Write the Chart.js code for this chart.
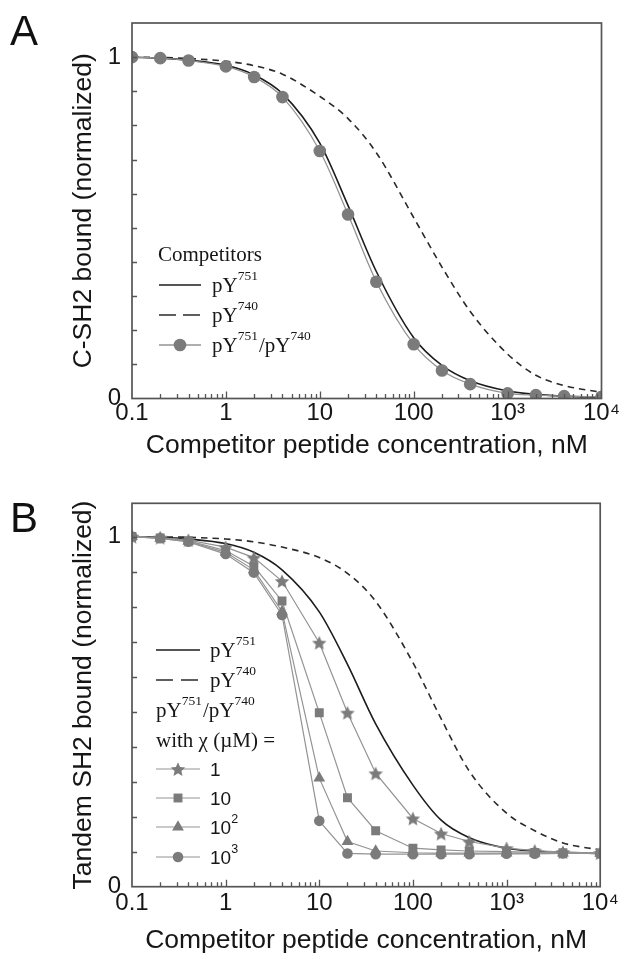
<!DOCTYPE html>
<html><head><meta charset="utf-8">
<script src="https://cdn.jsdelivr.net/npm/chart.js@4"></script>
<style>
html,body{margin:0;padding:0;background:#fff;}
#wrap{position:relative;width:623px;height:955px;overflow:hidden;}
.panel{position:absolute;left:0;width:623px;}
#pa{top:0;height:470px;}
#pb{top:470px;height:485px;}
.letter{position:absolute;left:10px;font-family:"Liberation Sans",Arial,sans-serif;font-size:42px;color:#111;line-height:1;}
</style></head>
<body>
<div id="wrap">
<div class="panel" id="pa"><canvas id="ca" width="623" height="470"></canvas></div>
<div class="panel" id="pb"><canvas id="cb" width="623" height="485"></canvas></div>
<div class="letter" style="top:9.5px">A</div>
<div class="letter" style="top:496.5px">B</div>
</div>
<script>
// ---------- data ----------
const conc = [0.1,0.2,0.4,1,2,4,10,20,40,100,200,400,1000,2000,4000,10000];

// Panel A
const aBoth  = [1.000,0.997,0.990,0.973,0.942,0.883,0.725,0.539,0.342,0.159,0.082,0.042,0.015,0.010,0.007,0.005];
const aPY751 = [1.000,0.997,0.991,0.976,0.948,0.893,0.748,0.565,0.372,0.178,0.097,0.052,0.022,0.012,0.007,0.003];
const aPY740 = [1.000,0.999,0.996,0.988,0.975,0.950,0.885,0.820,0.720,0.530,0.385,0.255,0.130,0.068,0.038,0.018];

// Panel B
const bPY751   = [1.000,0.998,0.993,0.980,0.955,0.905,0.785,0.635,0.465,0.290,0.190,0.140,0.110,0.102,0.098,0.095];
const bPY740   = [1.000,0.999,0.998,0.993,0.985,0.970,0.940,0.895,0.815,0.640,0.480,0.330,0.210,0.160,0.125,0.105];
const bChi1    = [1.000,0.997,0.990,0.970,0.940,0.873,0.697,0.497,0.324,0.195,0.152,0.129,0.110,0.103,0.099,0.096];
const bChi10   = [1.000,0.996,0.988,0.960,0.915,0.816,0.497,0.254,0.160,0.110,0.105,0.102,0.100,0.098,0.097,0.096];
const bChi100  = [1.000,0.995,0.986,0.955,0.905,0.786,0.310,0.129,0.102,0.097,0.096,0.096,0.096,0.096,0.096,0.095];
const bChi1000 = [1.000,0.995,0.985,0.950,0.897,0.776,0.188,0.095,0.093,0.093,0.093,0.093,0.094,0.094,0.095,0.095];

// ticks / labels
const xTickValues = [0.1,1,10,100,1000,10000];
const xTickText   = ['0.1','1','10','100','10\u00B3','10\u2074'];
const yTickValues = [0,1];
const yTickText   = ['0','1'];
const xTitle  = 'Competitor peptide concentration, nM';
const yTitleA = 'C-SH2 bound (normalized)';
const yTitleB = 'Tandem SH2 bound (normalized)';

// ---------- helpers ----------
const SANS = '"Liberation Sans", Arial, sans-serif';
const SERIF = '"Liberation Serif", "Times New Roman", serif';
const GRAY = '#7b7b7b';
const GRAYLINE = '#939393';
function pts(ys){ return conc.map((x,i)=>({x:x, y:ys[i]})); }

function makeStar(R, color){
  const s = Math.ceil(R*2+2);
  const c = document.createElement('canvas'); c.width = s; c.height = s;
  const g = c.getContext('2d');
  g.fillStyle = color; g.beginPath();
  for (let k=0;k<10;k++){
    const r = (k%2) ? R*0.47 : R;
    const a = -Math.PI/2 + k*Math.PI/5;
    g.lineTo(s/2 + r*Math.cos(a), s/2 + 0.8 + r*Math.sin(a));
  }
  g.closePath(); g.fill();
  return c;
}
const starImg = makeStar(7.6, GRAY);

function drawRich(ctx, parts, x, y, base, sup, family, color){
  let cx = x;
  ctx.fillStyle = color || '#161616';
  ctx.textBaseline = 'alphabetic';
  ctx.textAlign = 'left';
  for (const p of parts){
    ctx.font = (p.sup ? sup : base) + 'px ' + family;
    ctx.fillText(p.t, cx, p.sup ? y - base*0.58 : y);
    cx += ctx.measureText(p.t).width + (p.sup ? 1 : 0);
  }
}

const framePlugin = {
  id: 'frame',
  afterDatasetsDraw(chart){
    const {ctx, chartArea:a, scales:{x, y}} = chart;
    ctx.save();
    ctx.strokeStyle = '#555'; ctx.lineWidth = 1.3;
    ctx.beginPath();
    for (let e=-1; e<4; e++){
      for (let m=1; m<=9; m++){
        if (e===-1 && m===1) continue;
        const px = Math.round(x.getPixelForValue(m*Math.pow(10,e))) + 0.5;
        const len = (m===1) ? 7 : 4.5;
        ctx.moveTo(px, a.bottom); ctx.lineTo(px, a.bottom - len);
      }
    }
    for (let k=1;k<=10;k++){
      const py = Math.round(y.getPixelForValue(k/10)) + 0.5;
      ctx.moveTo(a.left, py); ctx.lineTo(a.left + 5, py);
    }
    ctx.stroke();
    ctx.lineWidth = 1.7; ctx.strokeStyle = '#555';
    ctx.strokeRect(a.left, a.top, a.right - a.left, a.bottom - a.top);
    ctx.restore();
  }
};

const legendPlugin = {
  id: 'richLegend',
  afterDraw(chart, args, opts){
    const ctx = chart.ctx;
    ctx.save();
    for (const it of opts.items){
      const y = it.y;
      if (it.line){
        ctx.save();
        ctx.strokeStyle = it.line.color; ctx.lineWidth = it.line.width;
        ctx.setLineDash(it.line.dash || []);
        ctx.beginPath(); ctx.moveTo(opts.x0, y); ctx.lineTo(opts.x1, y); ctx.stroke();
        ctx.restore();
      }
      if (it.marker){
        ctx.save();
        ctx.fillStyle = GRAY; ctx.strokeStyle = GRAY;
        Chart.helpers.drawPoint(ctx, {pointStyle: it.marker.style, radius: it.marker.r, rotation: 0, borderWidth: 0}, (opts.x0+opts.x1)/2, y);
        ctx.restore();
      }
      const fam = it.sans ? SANS : SERIF;
      const base = it.sans ? 19 : 21;
      const sup = it.sans ? 12.5 : 13.5;
      const tx = (it.textX !== undefined) ? it.textX : opts.tx;
      drawRich(ctx, it.parts, tx, y + (it.sans ? 6.8 : 7), base, sup, fam, '#161616');
    }
    ctx.restore();
  }
};

function axes(opts){
  return {
    x: {
      type:'logarithmic', min:0.1, max:10000,
      grid:{display:false, drawTicks:false}, border:{display:false},
      afterBuildTicks: s => { s.ticks = xTickValues.map(v => ({value:v})); },
      afterFit: s => { s.height = opts.xh; },
      ticks:{autoSkip:false, maxRotation:0, minRotation:0, padding:opts.xpad, color:'#161616',
             font:{family:SANS, size:24, lineHeight:1},
             callback:(v,i) => xTickText[i]},
      title:{display:true, text:xTitle, color:'#161616',
             font:{family:SANS, size:26.5, lineHeight:1}, padding:{top:0, bottom:opts.xtpad}}
    },
    y: {
      type:'linear', min:0, max:opts.ymax,
      grid:{display:false, drawTicks:false}, border:{display:false},
      afterBuildTicks: s => { s.ticks = yTickValues.map(v => ({value:v})); },
      afterFit: s => { s.width = 132; },
      ticks:{padding:11, color:'#161616', font:{family:SANS, size:24, lineHeight:1},
             callback:(v,i) => yTickText[i]},
      title:{display:true, text:opts.ytitle, color:'#161616',
             font:{family:SANS, size:26.5, lineHeight:1}, padding:{top:70.75, bottom:0}}
    }
  };
}

Chart.defaults.font.family = SANS;

// ---------- Panel A ----------
new Chart(document.getElementById('ca'), {
  type:'line',
  data:{datasets:[
    {label:'pY751/pY740', data:pts(aBoth), borderColor:GRAYLINE, borderWidth:1.3,
     pointRadius:6.3, pointBackgroundColor:GRAY, pointBorderColor:GRAY, pointBorderWidth:0,
     cubicInterpolationMode:'monotone', clip:0},
    {label:'pY751', data:pts(aPY751), borderColor:'#1c1c1c', borderWidth:1.6, pointRadius:0,
     cubicInterpolationMode:'monotone', clip:0},
    {label:'pY740', data:pts(aPY740), borderColor:'#2a2a2a', borderWidth:1.6, borderDash:[6.5,5],
     pointRadius:0, cubicInterpolationMode:'monotone', clip:0}
  ]},
  options:{
    responsive:false, animation:false, events:[],
    layout:{padding:{top:16.7, right:15, left:0, bottom:0}},
    plugins:{
      legend:{display:false}, tooltip:{enabled:false},
      richLegend:{x0:159, x1:201, tx:212, items:[
        {y:254, parts:[{t:'Competitors'}], textX:158},
        {y:285, line:{color:'#1c1c1c', width:1.6}, parts:[{t:'pY'},{t:'751',sup:true}]},
        {y:315, line:{color:'#2a2a2a', width:1.6, dash:[17,7]}, parts:[{t:'pY'},{t:'740',sup:true}]},
        {y:345, line:{color:GRAYLINE, width:1.3}, marker:{style:'circle', r:6.3},
         parts:[{t:'pY'},{t:'751',sup:true},{t:'/pY'},{t:'740',sup:true}]}
      ]}
    },
    scales: axes({xh:71.5, xpad:3, xtpad:10.75, ymax:1.1, ytitle:yTitleA})
  },
  plugins:[framePlugin, legendPlugin]
});

// ---------- Panel B ----------
const markerDs = (label, ys, style, r) => ({
  label, data:pts(ys), borderColor:GRAYLINE, borderWidth:1.2, tension:0,
  pointStyle:style, pointRadius:r, pointBackgroundColor:GRAY, pointBorderColor:GRAY, pointBorderWidth:0, clip:0
});
new Chart(document.getElementById('cb'), {
  type:'line',
  data:{datasets:[
    markerDs('1000', bChi1000, 'circle', 5.3),
    markerDs('100', bChi100, 'triangle', 6.8),
    markerDs('10', bChi10, 'rect', 6.3),
    markerDs('1', bChi1, starImg, 7),
    {label:'pY751', data:pts(bPY751), borderColor:'#1c1c1c', borderWidth:1.6, pointRadius:0,
     cubicInterpolationMode:'monotone', clip:0},
    {label:'pY740', data:pts(bPY740), borderColor:'#2a2a2a', borderWidth:1.6, borderDash:[6.5,5],
     pointRadius:0, cubicInterpolationMode:'monotone', clip:0}
  ]},
  options:{
    responsive:false, animation:false, events:[],
    layout:{padding:{top:33.3, right:15, left:0, bottom:0}},
    plugins:{
      legend:{display:false}, tooltip:{enabled:false},
      richLegend:{x0:156, x1:200, tx:210, items:[
        {y:180, line:{color:'#1c1c1c', width:1.6}, parts:[{t:'pY'},{t:'751',sup:true}]},
        {y:210, line:{color:'#2a2a2a', width:1.6, dash:[17,8]}, parts:[{t:'pY'},{t:'740',sup:true}]},
        {y:240, parts:[{t:'pY'},{t:'751',sup:true},{t:'/pY'},{t:'740',sup:true}], textX:156},
        {y:270, parts:[{t:'with \u03C7 (\u00B5M) ='}], textX:156},
        {y:299, line:{color:GRAYLINE, width:1.2}, marker:{style:starImg, r:7}, sans:true, parts:[{t:'1'}]},
        {y:328, line:{color:GRAYLINE, width:1.2}, marker:{style:'rect', r:6.3}, sans:true, parts:[{t:'10'}]},
        {y:357, line:{color:GRAYLINE, width:1.2}, marker:{style:'triangle', r:6.8}, sans:true, parts:[{t:'10'},{t:'2',sup:true}]},
        {y:387, line:{color:GRAYLINE, width:1.2}, marker:{style:'circle', r:5.3}, sans:true, parts:[{t:'10'},{t:'3',sup:true}]}
      ]}
    },
    scales: axes({xh:68.3, xpad:4.3, xtpad:0.75, ymax:1.095, ytitle:yTitleB})
  },
  plugins:[framePlugin, legendPlugin]
});
</script>
</body></html>
